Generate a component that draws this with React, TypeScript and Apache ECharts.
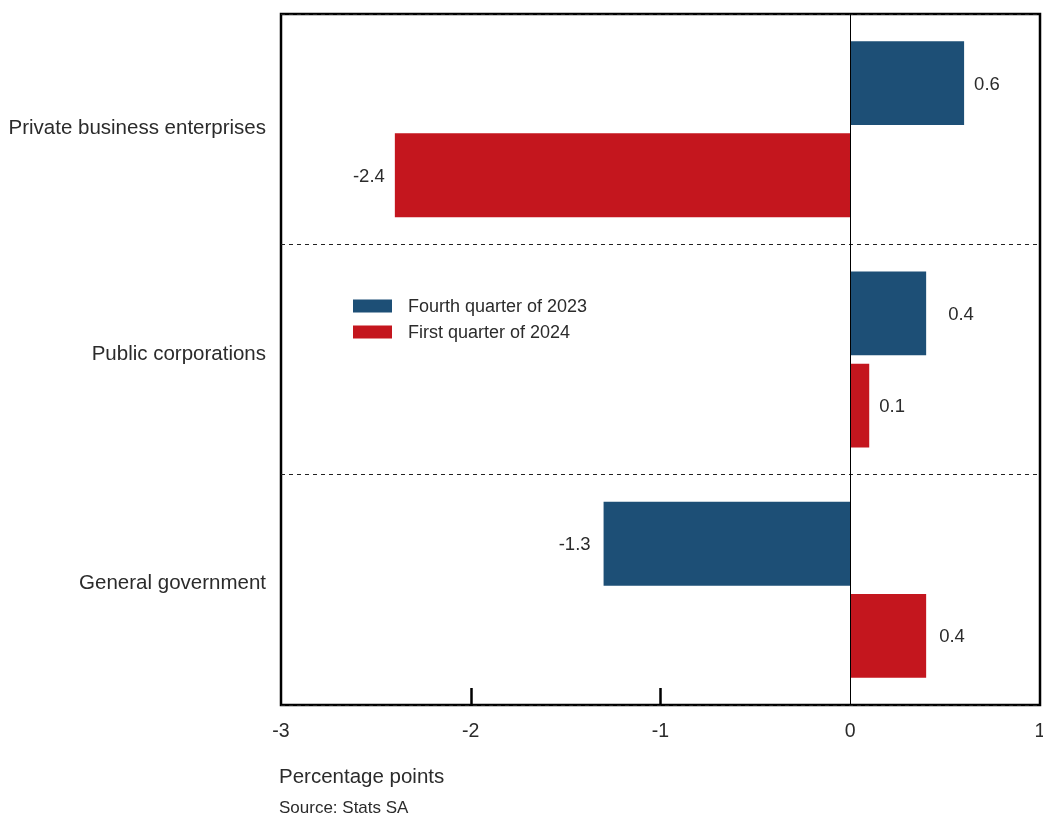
import React, { useEffect, useRef } from "react";
import * as echarts from "echarts";

// Contribution to change, by institutional sector (percentage points)
const categories = ["Private business enterprises", "Public corporations", "General government"];
const q4_2023 = [0.6, 0.4, -1.3];
const q1_2024 = [-2.4, 0.1, 0.4];
const seriesNames = ["Fourth quarter of 2023", "First quarter of 2024"];
const xTicks = [-3, -2, -1, 0, 1];
const innerTicks = [-2, -1];
const axisTitle = "Percentage points";
const sourceNote = "Source: Stats SA";

const BLUE = "#1d4f76";
const RED = "#c4161e";
const FONT = "Liberation Sans, Arial, Helvetica, sans-serif";
const TEXT = "#2b2b2b";

// small upward nudges for the sector names (bottom padding lifts the text)
const labelLift = [5, 14, 17];
// gap between each bar end and its value label, per series
const labelGapQ4 = [10, 22, 13];
const labelGapQ1 = [10, 10, 13];

export default function App() {
  const ref = useRef<HTMLDivElement>(null);

  useEffect(() => {
    if (!ref.current) return;
    const chart = echarts.init(ref.current, undefined, { renderer: "svg" });

    const valueLabel = {
      show: true,
      color: TEXT,
      fontFamily: FONT,
      fontSize: 18.5,
      formatter: (p: any) => String(p.value),
    };

    const makeData = (vals: number[], gaps: number[]) =>
      vals.map((v, i) => ({
        value: v,
        label: { position: v < 0 ? "left" : "right", distance: gaps[i] },
      }));

    const rich: Record<string, any> = {};
    labelLift.forEach((lift, i) => {
      rich["c" + i] = {
        fontFamily: FONT,
        fontSize: 20.5,
        color: TEXT,
        padding: [0, 0, lift, 0],
      };
    });

    chart.setOption({
      animation: false,
      textStyle: { fontFamily: FONT, color: TEXT },
      grid: {
        left: 281,
        right: 3,
        top: 14,
        bottom: 111,
        containLabel: false,
        outerBoundsMode: "none",
        show: true,
        borderColor: "#000",
        borderWidth: 2.5,
        backgroundColor: "transparent",
      },
      legend: {
        orient: "vertical",
        left: 348,
        top: 292,
        itemWidth: 39,
        itemHeight: 13,
        itemGap: 8,
        icon: "rect",
        data: seriesNames,
        textStyle: { fontFamily: FONT, fontSize: 18, color: TEXT, padding: [0, 0, 0, 11] },
      },
      xAxis: {
        type: "value",
        min: xTicks[0],
        max: xTicks[xTicks.length - 1],
        interval: 1,
        axisLine: { show: false },
        splitLine: { show: false },
        axisTick: {
          show: true,
          inside: true,
          length: 17,
          customValues: innerTicks,
          lineStyle: { color: "#000", width: 2.5 },
        },
        axisLabel: {
          margin: 15,
          fontFamily: FONT,
          fontSize: 19.5,
          color: TEXT,
          customValues: xTicks,
        },
      },
      yAxis: {
        type: "category",
        data: categories,
        inverse: true,
        axisLine: { show: false },
        axisTick: { show: false },
        axisLabel: {
          margin: 15,
          fontFamily: FONT,
          fontSize: 20.5,
          color: TEXT,
          formatter: (v: string, i: number) => `{c${i}|${v}}`,
          rich,
        },
        splitLine: {
          show: true,
          lineStyle: { color: "#222", type: [4, 4], width: 1 },
        },
      },
      series: [
        {
          name: seriesNames[0],
          type: "bar",
          data: makeData(q4_2023, labelGapQ4),
          itemStyle: { color: BLUE },
          barGap: "10%",
          barCategoryGap: "23.6%",
          label: valueLabel,
          markLine: {
            silent: true,
            symbol: "none",
            label: { show: false },
            lineStyle: { color: "#000", width: 1, type: "solid" },
            data: [{ xAxis: 0 }],
          },
        },
        {
          name: seriesNames[1],
          type: "bar",
          data: makeData(q1_2024, labelGapQ1),
          itemStyle: { color: RED },
          barGap: "10%",
          barCategoryGap: "23.6%",
          label: valueLabel,
        },
      ],
      graphic: [
        {
          type: "text",
          left: 279,
          top: 765,
          style: { text: axisTitle, fontFamily: FONT, fontSize: 20.5, fill: TEXT },
        },
        {
          type: "text",
          left: 279,
          top: 799,
          style: { text: sourceNote, fontFamily: FONT, fontSize: 17, fill: TEXT },
        },
      ],
    });

    return () => chart.dispose();
  }, []);

  return (
    <div
      ref={ref}
      style={{ position: "fixed", left: 0, top: 0, width: 1043, height: 816 }}
    />
  );
}
